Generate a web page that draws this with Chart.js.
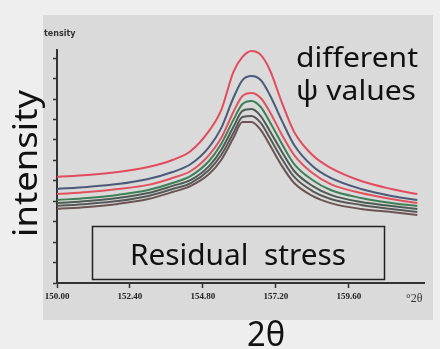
<!DOCTYPE html>
<html lang="en">
<head>
<meta charset="UTF-8">
<title>Residual stress peaks</title>
<script src="https://cdn.jsdelivr.net/npm/chart.js@4.4.1/dist/chart.umd.min.js"></script>
<style>
    body { margin: 0; background: #eeeeee; }
    canvas { display: block; }
</style>
</head>
<body>
<canvas id="peaks" width="440" height="349"></canvas>
<script>
// 2theta positions (deg) and intensity, one array per psi value
const twoTheta = [150.0, 151.0, 152.0, 153.0, 153.8, 154.4, 155.0, 155.4, 155.8, 156.1, 156.4, 156.7, 157.0, 157.4, 157.8, 158.4, 159.0, 160.0, 161.0, 161.85];

const psi1 = [519, 528, 543, 568, 602, 646, 744, 846, 1032, 1106, 1135, 1116, 1042, 881, 739, 626, 563, 499, 460, 435];
const psi2 = [460, 470, 484, 509, 543, 582, 665, 758, 905, 993, 1013, 993, 920, 793, 675, 572, 514, 460, 426, 406];
const psi3 = [435, 445, 460, 480, 514, 548, 626, 709, 837, 915, 930, 905, 837, 724, 626, 538, 484, 440, 411, 391];
const psi4 = [406, 416, 431, 455, 489, 524, 597, 680, 798, 876, 891, 861, 788, 680, 582, 504, 455, 416, 391, 377];
const psi5 = [391, 401, 416, 440, 475, 504, 572, 651, 763, 842, 851, 817, 744, 641, 548, 475, 431, 396, 377, 362];
const psi6 = [377, 387, 401, 426, 460, 489, 553, 626, 734, 812, 817, 783, 709, 607, 519, 450, 411, 382, 362, 347];
const psi7 = [362, 372, 387, 411, 445, 475, 533, 602, 709, 788, 788, 749, 675, 572, 489, 426, 391, 362, 347, 333];

const seriesColors = ["#e24b5f", "#4b5a78", "#e0525f", "#3f7f58", "#4d5c52", "#585858", "#6a5454"];

const xTicks = [150.0, 152.4, 154.8, 157.2, 159.6];
const xTickLabels = ["150.00", "152.40", "154.80", "157.20", "159.60"];
const yTicks = [0, 100, 200, 300, 400, 500, 600, 700, 800, 900, 1000, 1100];

const allSeries = [psi1, psi2, psi3, psi4, psi5, psi6, psi7];

// draw text squeezed/stretched to a measured width
function fitText(ctx, text, x, y, size, width, rotate) {
    ctx.save();
    ctx.font = size + "px 'Noto Sans'";
    const w = ctx.measureText(text).width;
    ctx.translate(x, y);
    if (rotate) ctx.rotate(-Math.PI / 2);
    ctx.scale(width / w, 1);
    ctx.fillText(text, 0, 0);
    ctx.restore();
}

const decorations = {
    id: "decorations",
    beforeDraw(chart) {
        const ctx = chart.ctx;
        ctx.save();
        ctx.fillStyle = "#eeeeee";
        ctx.fillRect(0, 0, 440, 349);
        ctx.fillStyle = "#dadada";
        ctx.fillRect(43, 15, 390, 305);
        ctx.restore();
    },
    afterDraw(chart) {
        const ctx = chart.ctx;
        ctx.save();
        ctx.fillStyle = "#111";
        ctx.textBaseline = "alphabetic";
        fitText(ctx, "different", 296, 67, 27, 122);
        fitText(ctx, "ψ values", 296, 100, 27, 120);
        fitText(ctx, "2θ", 247, 346, 34, 38);
        fitText(ctx, "intensity", 37, 237, 33, 147, true);

        ctx.strokeStyle = "#222";
        ctx.lineWidth = 1.5;
        ctx.strokeRect(92.5, 226.5, 292, 53);
        fitText(ctx, "Residual  stress", 130, 265, 29, 216);

        ctx.fillStyle = "#333";
        ctx.font = "bold 8px 'DejaVu Sans'";
        ctx.fillText("tensity", 44, 36);
        ctx.font = "12px 'Liberation Serif'";
        ctx.fillText("°2θ", 406, 302);
        ctx.restore();
    }
};

new Chart(document.getElementById("peaks"), {
    type: "line",
    data: {
        datasets: allSeries.map((s, i) => ({
            data: s.map((v, j) => ({ x: twoTheta[j], y: v })),
            borderColor: seriesColors[i],
            borderWidth: 2,
            pointRadius: 0,
            fill: false,
            cubicInterpolationMode: "monotone"
        }))
    },
    options: {
        responsive: false,
        animation: false,
        layout: { padding: { top: 50, right: 16, left: 0, bottom: 0 } },
        plugins: { legend: { display: false }, tooltip: { enabled: false } },
        scales: {
            x: {
                type: "linear",
                min: 150,
                max: 162.07,
                afterBuildTicks: s => { s.ticks = xTicks.map(v => ({ value: v })); },
                afterFit: s => { s.height = 66; },
                border: { color: "#333", width: 2 },
                grid: { drawOnChartArea: false, tickLength: 5, color: "#333", tickWidth: 1.5 },
                ticks: {
                    padding: 3,
                    maxRotation: 0,
                    autoSkip: false,
                    color: "#222",
                    font: { size: 9, family: "'Liberation Serif'", weight: "bold" },
                    callback: (v, i) => xTickLabels[i]
                }
            },
            y: {
                min: 0,
                max: 1140,
                afterBuildTicks: s => { s.ticks = yTicks.map(v => ({ value: v })); },
                afterFit: s => { s.width = 57; },
                border: { color: "#333", width: 2 },
                grid: { drawOnChartArea: false, tickLength: 4, color: "#333", tickWidth: 1.5 },
                ticks: { display: false }
            }
        }
    },
    plugins: [decorations]
});
</script>
</body>
</html>
